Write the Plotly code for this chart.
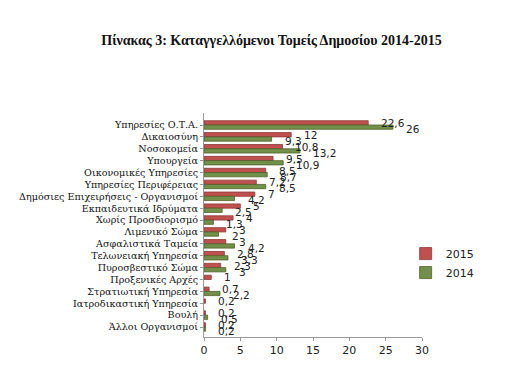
import plotly.graph_objects as go

categories = [
    "Υπηρεσίες Ο.Τ.Α.", "Δικαιοσύνη", "Νοσοκομεία", "Υπουργεία",
    "Οικονομικές Υπηρεσίες", "Υπηρεσίες Περιφέρειας",
    "Δημόσιες Επιχειρήσεις - Οργανισμοί", "Εκπαιδευτικά Ιδρύματα",
    "Χωρίς Προσδιορισμό", "Λιμενικό Σώμα", "Ασφαλιστικά Ταμεία",
    "Τελωνειακή Υπηρεσία", "Πυροσβεστικό Σώμα", "Προξενικές Αρχές",
    "Στρατιωτική Υπηρεσία", "Ιατροδικαστική Υπηρεσία", "Βουλή",
    "Άλλοι Οργανισμοί",
]
values_2015 = [22.6, 12, 10.8, 9.5, 8.5, 7.2, 7, 5, 4, 3, 3, 2.8, 2.3, 1, 0.7, 0.2, 0.2, 0.2]
values_2014 = [26, 9.3, 13.2, 10.9, 8.7, 8.5, 4.2, 2.5, 1.3, 2, 4.2, 3.3, 3, None, 2.2, None, 0.5, 0.2]
x_ticks = [0, 5, 10, 15, 20, 25, 30]

RED = "#C0504D"
GREEN = "#72904A"

fig = go.Figure()
fig.add_trace(go.Bar(y=categories, x=values_2015, name="2015", orientation="h",
                     marker=dict(color=RED, line=dict(color="#8C3836", width=0.8))))
fig.add_trace(go.Bar(y=categories, x=values_2014, name="2014", orientation="h",
                     marker=dict(color=GREEN, line=dict(color="#4F6228", width=0.8))))

def fmt(v):
    return ("%g" % v).replace(".", ",")

for vals, yshift in ((values_2015, 2), (values_2014, -4)):
    for c, v in zip(categories, vals):
        if v is None:
            continue
        fig.add_annotation(x=v, y=c, text=fmt(v), showarrow=False, xanchor="left",
                           xshift=11, yshift=yshift,
                           font=dict(family="DejaVu Sans", size=10.5, color="#222"))

fig.update_layout(
    width=527, height=377,
    margin=dict(l=196, r=113, t=105, b=48),
    paper_bgcolor="white", plot_bgcolor="white",
    barmode="group", bargap=0.28, bargroupgap=0,
    title=dict(text="<b>Πίνακας 3: Καταγγελλόμενοι Τομείς Δημοσίου 2014-2015</b>",
               x=0.5, xanchor="center", y=0.915, yanchor="middle",
               font=dict(family="Liberation Serif", size=14, color="#111")),
    legend=dict(x=0.925, y=0.33, xanchor="left", yanchor="middle",
                font=dict(family="DejaVu Sans", size=11, color="#222"),
                bgcolor="rgba(0,0,0,0)", tracegroupgap=0),
    showlegend=True,
)
fig.update_xaxes(range=[0, 30], tickvals=x_ticks, showgrid=False, zeroline=False,
                 showline=True, linecolor="#999", ticks="outside", tickcolor="#999", ticklen=3,
                 tickfont=dict(family="DejaVu Sans", size=11, color="#222"))
fig.update_yaxes(autorange="reversed", tickmode="array", tickvals=categories,
                 showgrid=False, showline=True, linecolor="#999",
                 ticks="outside", tickcolor="#999", ticklen=3,
                 tickfont=dict(family="DejaVu Serif", size=9.6, color="#111"))

fig.write_html("out.html")
